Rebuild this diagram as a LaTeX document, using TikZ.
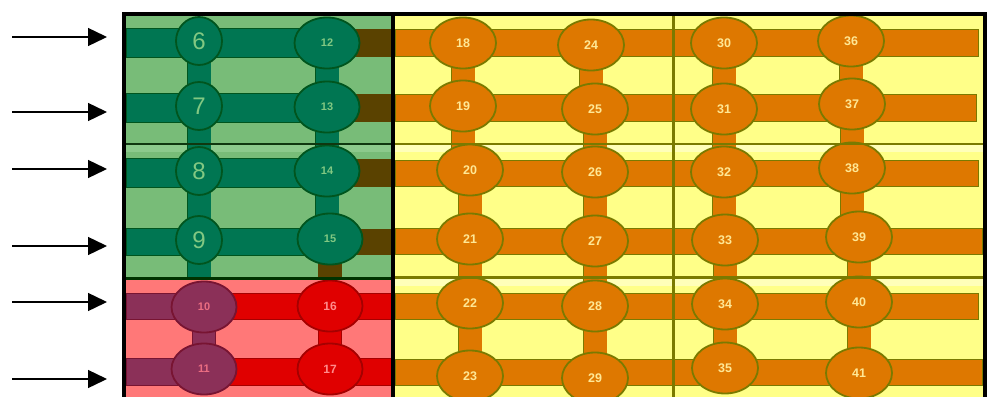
\documentclass[tikz,border=0pt]{standalone}
\usepackage{fontspec}
\setmainfont{Liberation Sans}
\usetikzlibrary{arrows.meta,shapes.geometric}
\definecolor{lgreen}{RGB}{120,188,120}
\definecolor{pgreen}{RGB}{140,202,140}
\definecolor{dgreen}{RGB}{0,118,82}
\definecolor{gborder}{RGB}{0,85,30}
\definecolor{gline}{RGB}{15,55,15}
\definecolor{gtext}{RGB}{130,200,130}
\definecolor{brownbar}{RGB}{90,66,0}
\definecolor{lred}{RGB}{255,120,120}
\definecolor{rred}{RGB}{224,0,0}
\definecolor{rborder}{RGB}{165,0,0}
\definecolor{purp}{RGB}{139,48,88}
\definecolor{pborder}{RGB}{120,20,50}
\definecolor{rtext}{RGB}{255,140,140}
\definecolor{ptext}{RGB}{235,110,130}
\definecolor{lyellow}{RGB}{255,255,136}
\definecolor{pyellow}{RGB}{255,255,185}
\definecolor{orng}{RGB}{222,120,0}
\definecolor{olv}{RGB}{122,122,0}
\definecolor{otext}{RGB}{255,232,150}
\pgfdeclarelayer{back}
\pgfdeclarelayer{bars}
\pgfsetlayers{back,bars,main}
\tikzset{
  basenode/.style={ellipse, inner sep=0pt, line width=1.8pt, minimum width=65pt, minimum height=51pt},
  gnode/.style={basenode, draw=gborder, fill=dgreen, text=gtext, font=\bfseries\fontsize{11}{11}\selectfont},
  gsmall/.style={gnode, minimum width=46pt, minimum height=48pt, font=\fontsize{24}{24}\selectfont},
  pnode/.style={basenode, draw=pborder, fill=purp, text=ptext, font=\bfseries\fontsize{11}{11}\selectfont},
  rnode/.style={basenode, draw=rborder, fill=rred, text=rtext, font=\bfseries\fontsize{12}{12}\selectfont},
  onode/.style={basenode, minimum width=66pt, draw=olv, fill=orng, text=otext, font=\bfseries\fontsize{12.5}{12.5}\selectfont},
  gvbar/.style={draw=gborder, line width=0.6pt, double=dgreen, double distance=23pt},
  bvbar/.style={draw=brownbar, line width=0.6pt, double=brownbar, double distance=23pt},
  pvbar/.style={draw=pborder, line width=0.6pt, double=purp, double distance=22pt},
  rvbar/.style={draw=rborder, line width=0.6pt, double=rred, double distance=22pt},
  ovbar/.style={draw=olv, line width=0.8pt, double=orng, double distance=23pt},
  ghbar/.style={fill=dgreen, draw=gborder, line width=0.6pt},
  bhbar/.style={fill=brownbar},
  phbar/.style={fill=purp, draw=pborder, line width=0.6pt},
  rhbar/.style={fill=rred, draw=rborder, line width=0.6pt},
  ohbar/.style={fill=orng, draw=olv, line width=0.8pt},
  arr/.style={line width=1.4pt, -{Triangle[length=19pt,width=18pt]}},
}
\begin{document}
\begin{tikzpicture}[x=1pt,y=-1pt]
\useasboundingbox (0,0) rectangle (987,396);
\clip (0,0) rectangle (987,396);

% ---------- backgrounds ----------
\begin{pgfonlayer}{back}
  \fill[lgreen] (125,14) rectangle (393,278);
  \fill[pgreen] (125,145) rectangle (393,152);
  \fill[lred] (125,278) rectangle (393,400);
  \fill[lyellow] (393,14) rectangle (985,400);
  \fill[pyellow] (393,145) rectangle (985,152);
  \fill[pyellow] (393,279) rectangle (985,286);
  % green rows
  \path[ghbar] (126,28) rectangle (327,57);
  \path[ghbar] (126,93) rectangle (327,122);
  \path[ghbar] (126,158) rectangle (327,187);
  \path[ghbar] (126,228) rectangle (327,255);
  \path[bhbar] (327,29) rectangle (392,57);
  \path[bhbar] (327,94) rectangle (392,122);
  \path[bhbar] (327,159) rectangle (392,187);
  \path[bhbar] (327,229) rectangle (392,255);
  % red rows
  \path[phbar] (126,293) rectangle (204,319);
  \path[phbar] (126,358) rectangle (204,385);
  \path[rhbar] (204,293) rectangle (392,319);
  \path[rhbar] (204,358) rectangle (392,385);
  % orange rows
  \path[ohbar] (395,29) rectangle (978,56);
  \path[ohbar] (395,94) rectangle (976,121);
  \path[ohbar] (395,160) rectangle (978,186);
  \path[ohbar] (395,228) rectangle (982,254);
  \path[ohbar] (395,293) rectangle (978,319);
  \path[ohbar] (395,359) rectangle (982,385);
\end{pgfonlayer}

% ---------- nodes ----------
\node[gsmall] (n6) at (199,41) {6};
\node[gsmall] (n7) at (199,106) {7};
\node[gsmall] (n8) at (199,171) {8};
\node[gsmall] (n9) at (199,240) {9};
\node[gnode] (n12) at (327,43) {12};
\node[gnode] (n13) at (327,107) {13};
\node[gnode] (n14) at (327,171) {14};
\node[gnode] (n15) at (330,239) {15};
\node[pnode] (n10) at (204,307) {10};
\node[pnode] (n11) at (204,369) {11};
\node[rnode] (n16) at (330,306) {16};
\node[rnode] (n17) at (330,369) {17};

\node[onode] (n18) at (463,43) {18};
\node[onode] (n19) at (463,106) {19};
\node[onode] (n20) at (470,170) {20};
\node[onode] (n21) at (470,239) {21};
\node[onode] (n22) at (470,303) {22};
\node[onode] (n23) at (470,376) {23};
\node[onode] (n24) at (591,45) {24};
\node[onode] (n25) at (595,109) {25};
\node[onode] (n26) at (595,172) {26};
\node[onode] (n27) at (595,241) {27};
\node[onode] (n28) at (595,306) {28};
\node[onode] (n29) at (595,378) {29};
\node[onode] (n30) at (724,43) {30};
\node[onode] (n31) at (724,109) {31};
\node[onode] (n32) at (724,172) {32};
\node[onode] (n33) at (725,240) {33};
\node[onode] (n34) at (725,304) {34};
\node[onode] (n35) at (725,368) {35};
\node[onode] (n36) at (851,41) {36};
\node[onode] (n37) at (852,104) {37};
\node[onode] (n38) at (852,168) {38};
\node[onode] (n39) at (859,237) {39};
\node[onode] (n40) at (859,302) {40};
\node[onode] (n41) at (859,373) {41};

\coordinate (gb1) at (200,278);
\coordinate (gb2) at (330,278);

% ---------- vertical connectors ----------
\begin{pgfonlayer}{bars}
  \foreach \a/\b in {6/7,7/8,8/9,12/13,13/14,14/15}
    \draw[gvbar] (n\a.center) -- (n\a.center |- n\b.center);
  \draw[gvbar] (n9.center) -- (n9.center |- gb1);
  \draw[bvbar] (n15.center) -- (n15.center |- gb2);
  \draw[pvbar] (n10.center) -- (n10.center |- n11.center);
  \draw[rvbar] (n16.center) -- (n16.center |- n17.center);
  \foreach \a/\b in {18/19,19/20,20/21,21/22,22/23,24/25,25/26,26/27,27/28,28/29,30/31,31/32,32/33,33/34,34/35,36/37,37/38,38/39,39/40,40/41}
    \draw[ovbar] (n\a.center) -- (n\a.center |- n\b.center);
\end{pgfonlayer}

% ---------- dividers ----------
\draw[gline, line width=2.5pt] (125,144) -- (393,144);
\draw[black!80!green, line width=3pt] (125,278.5) -- (393,278.5);
\draw[olv, line width=2.5pt] (393,144) -- (985,144);
\draw[olv, line width=3pt] (393,277.5) -- (985,277.5);
\draw[olv, line width=3pt] (673,14) -- (673,400);

% ---------- frame ----------
\draw[black, line width=3.5pt] (124,14) rectangle (985,402);
\draw[black, line width=3.5pt] (393,14) -- (393,402);

% ---------- arrows ----------
\foreach \i/\y in {1/37,2/112,3/169,4/246,5/302,6/379} {
  \coordinate (as\i) at (12,\y);
  \coordinate (ae\i) at (107,\y);
  \draw[arr] (as\i) -- (ae\i);
}
\end{tikzpicture}
\end{document}
